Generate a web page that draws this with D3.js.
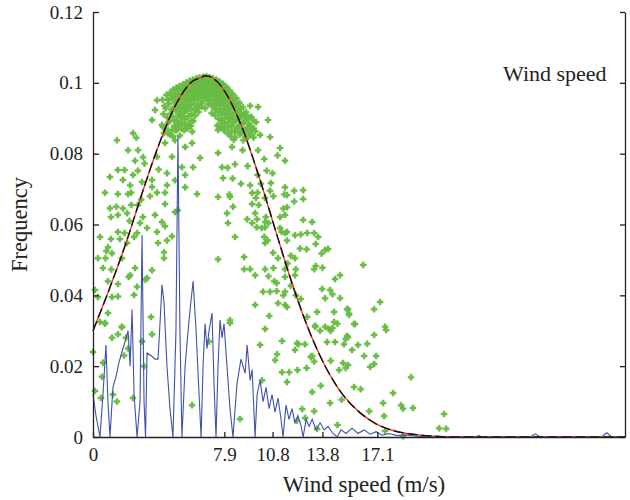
<!DOCTYPE html>
<html>
<head>
<meta charset="utf-8">
<script src="https://cdn.jsdelivr.net/npm/d3@7"></script>
<style>
  body { margin: 0; background: #fff; }
  text { font-family: "Liberation Serif", "DejaVu Serif", serif; fill: #222; }
</style>
</head>
<body>
<div id="chart"></div>
<script>
const xTickValues = [0, 7.9, 10.8, 13.8, 17.1];
const yTickValues = [0, 0.02, 0.04, 0.06, 0.08, 0.1, 0.12];
const yTickLabels = ["0", "0.02", "0.04", "0.06", "0.08", "0.1", "0.12"];

// fitted frequency curve
const fitX = [0, 1, 2, 3, 4, 5, 6, 6.5, 6.75, 7, 7.5, 8, 9, 10, 11, 12, 13, 14, 15, 16, 17, 18, 19, 20, 21, 22, 24, 26, 28, 30, 32];
const fitY = [0.030, 0.042, 0.055, 0.0695, 0.083, 0.094, 0.1005, 0.1015, 0.102, 0.1018, 0.1002, 0.097, 0.087, 0.0733, 0.058, 0.043, 0.030, 0.0197, 0.0121, 0.0071, 0.0038, 0.0019, 0.0009, 0.0004, 0.0001, 0, 0, 0, 0, 0, 0];

// measured histogram (blue)
const histX = [0, 0.18, 0.42, 0.6, 0.78, 0.9, 1.02, 1.2, 1.38, 1.56, 1.74, 1.93, 2.11, 2.23, 2.35, 2.47, 2.65, 2.83, 2.95, 3.07, 3.16,
  3.25, 3.49, 3.73, 3.91, 4.03, 4.15, 4.27, 4.45, 4.63, 4.81, 4.99, 5.11, 5.23, 5.35, 5.54, 5.72, 5.84, 6.02, 6.2, 6.38, 6.5,
  6.62, 6.74, 6.86, 6.98, 7.16, 7.28, 7.4, 7.52, 7.64, 7.76, 7.88, 8.06, 8.24, 8.42, 8.66, 8.9, 9.15, 9.27, 9.45, 9.57, 9.75,
  9.87, 10.05, 10.23, 10.41, 10.59, 10.77, 10.95, 11.13, 11.31, 11.43, 11.61, 11.79, 11.97, 12.15, 12.33, 12.52, 12.64, 12.82,
  13.0, 13.18, 13.42, 13.66, 13.9, 14.14, 14.44, 14.68, 14.92, 15.22, 15.58, 15.94, 16.3, 16.67, 17.03, 17.39, 17.8, 18.3,
  18.8, 19.5, 20.5, 23.0, 23.2, 23.4, 26.3, 26.6, 26.9, 30.6, 30.9, 31.2, 32];
const histY = [0.012, 0.006, 0, 0.012, 0.026, 0.01, 0, 0.014, 0.017, 0.021, 0.024, 0.027, 0.03, 0.02, 0.036, 0.012, 0, 0.01, 0.057, 0.01, 0,
  0.0237, 0.023, 0.022, 0.022, 0.032, 0.043, 0.038, 0.02, 0.008, 0, 0.03, 0.085, 0.03, 0, 0.02, 0.03, 0.036, 0.044, 0.03, 0.012, 0,
  0.02, 0.032, 0.025, 0.03, 0.035, 0.015, 0, 0.02, 0.033, 0.028, 0.032, 0.02, 0.008, 0, 0.015, 0.022, 0.018, 0.026, 0.016, 0.019, 0,
  0.012, 0.016, 0.01, 0.014, 0.008, 0.012, 0.007, 0.011, 0.005, 0, 0.009, 0.005, 0.008, 0.004, 0.006, 0.003, 0, 0.005,
  0.003, 0.005, 0.002, 0.004, 0.002, 0.003, 0.001, 0, 0.002, 0.001, 0.0025, 0.001, 0.002, 0.0008, 0.0015, 0.0005, 0.001, 0.0004,
  0.0006, 0.0002, 0, 0, 0.0004, 0, 0, 0.0009, 0, 0, 0.0012, 0, 0];

// observed points (green)
const obsPoints = [
  [0.0,0.024],[0.12,0.013],[0.54,0.017],[0.48,0.011],[0.60,0.021],[0.72,0.032],[1.14,0.028],[1.50,0.029],[1.20,0.012],[1.44,0.010],
  [1.87,0.023],[2.11,0.025],[1.99,0.028],[1.74,0.031],[2.41,0.011],[2.95,0.027],[3.07,0.020],[3.55,0.029],[5.96,0.009],[6.98,0.027],
  [0.72,0.069],[2.29,0.069],[3.85,0.069],[4.33,0.069],[6.26,0.0686],[3.43,0.068],[2.9,0.067],[2.7,0.0655],[2.3,0.0655],[4.33,0.0658],
  [4.93,0.0635],[5.1,0.064],[1.02,0.0646],[1.4,0.065],[1.8,0.0645],[2.05,0.0632],[1.5,0.0627],[1.08,0.0621],[2.2,0.061],[3.0,0.0621],
  [3.73,0.0627],[4.15,0.0607],[4.33,0.0595],[2.83,0.0604],[3.25,0.059],[2.65,0.0576],[2.47,0.0565],[1.5,0.0579],[1.9,0.0576],[3.85,0.0579],
  [4.75,0.0567],[0.42,0.0565],[1.08,0.0559],[1.62,0.0559],[2.05,0.0548],[3.91,0.0548],[4.45,0.0555],[0.90,0.0536],[0.80,0.0525],[4.27,0.0522],
  [1.14,0.0519],[0.30,0.0505],[0.75,0.0505],[1.74,0.0505],[4.27,0.0505],[7.52,0.0502],[0.60,0.0477],[1.1,0.0473],[2.53,0.0477],[3.55,0.0471],
  [2.23,0.0457],[2.15,0.0452],[3.25,0.0449],[3.15,0.0444],[0.90,0.044],[1.50,0.0432],[2.65,0.0424],[0.12,0.0415],[0.30,0.0395],[1.14,0.0395],
  [1.5,0.0397],[2.47,0.0401],[0.90,0.035],[0.42,0.0325],[0.72,0.0322],[1.74,0.0311],[3.49,0.0339],
  [1.44,0.0838],[2.41,0.0858],[2.6,0.0845],[2.71,0.081],[2.11,0.081],[3.01,0.079],[2.53,0.078],[3.1,0.0772],[1.50,0.0754],[1.9,0.0754],
  [2.41,0.074],[2.7,0.0752],[1.02,0.0734],[1.80,0.0726],[2.95,0.072],[3.55,0.0726],[2.23,0.0711],[1.5,0.0686],[2.11,0.0686],
  [3.55,0.0895],[3.73,0.0923],[3.85,0.0951],[4.21,0.0875],[4.51,0.0858],[4.93,0.0838],[5.54,0.0819],[5.96,0.083],[6.44,0.0788],[6.02,0.0762],
  [5.35,0.0762],[5.54,0.074],[5.05,0.0867],[4.33,0.083],[4.75,0.0791],[3.85,0.0791],[3.95,0.0755],[4.45,0.0745],[4.45,0.0711],[4.93,0.0725],
  [5.54,0.0705],[3.55,0.0706],[8.1,0.076],
  [4.18,0.0952],[4.24,0.0912],[4.15,0.0881],[4.27,0.0858],
  [4.42,0.0966],[4.37,0.0928],[4.46,0.0903],[4.39,0.0872],
  [4.63,0.0972],[4.57,0.0941],[4.66,0.0913],[4.59,0.0892],[4.64,0.0853],
  [4.83,0.0981],[4.77,0.0957],[4.86,0.0931],[4.79,0.0904],[4.88,0.0878],[4.81,0.0849],
  [5.02,0.0986],[4.96,0.0962],[5.07,0.0938],[4.98,0.0921],[5.05,0.0893],[4.94,0.0866],
  [5.21,0.0991],[5.16,0.0968],[5.25,0.0951],[5.18,0.0926],[5.27,0.0903],[5.14,0.0882],[5.23,0.0851],
  [5.42,0.0996],[5.37,0.0977],[5.46,0.0953],[5.39,0.0938],[5.44,0.0917],[5.35,0.0888],[5.48,0.0866],
  [5.61,0.1001],[5.57,0.0982],[5.66,0.0963],[5.58,0.0946],[5.64,0.0921],[5.55,0.0897],[5.68,0.0871],
  [5.82,0.1006],[5.77,0.0987],[5.86,0.0972],[5.79,0.0951],[5.84,0.0928],[5.75,0.0906],[5.88,0.0878],
  [6.01,0.1009],[5.96,0.0994],[6.05,0.0977],[5.98,0.0958],[6.06,0.0941],[5.94,0.0913],[6.03,0.0892],[5.97,0.0862],
  [6.22,0.1013],[6.16,0.0997],[6.25,0.0982],[6.18,0.0962],[6.27,0.0933],[6.14,0.0907],
  [6.41,0.1015],[6.36,0.1001],[6.45,0.0984],[6.38,0.0967],[6.47,0.0942],[6.34,0.0918],
  [6.62,0.1017],[6.57,0.1003],[6.66,0.0987],[6.58,0.0971],[6.64,0.0948],
  [6.81,0.1018],[6.77,0.1005],[6.86,0.0991],[6.79,0.0974],[6.84,0.0956],[6.75,0.0928],
  [7.02,0.1016],[6.96,0.1002],[7.05,0.0989],[6.98,0.0968],[7.07,0.0951],
  [7.21,0.1013],[7.16,0.0998],[7.26,0.0983],[7.18,0.0966],[7.24,0.0938],[7.14,0.0914],
  [7.42,0.1009],[7.37,0.0994],[7.46,0.0978],[7.39,0.0961],[7.44,0.0936],[7.35,0.0908],[7.47,0.0879],
  [7.61,0.1004],[7.56,0.0989],[7.66,0.0972],[7.58,0.0951],[7.64,0.0926],[7.55,0.0898],[7.68,0.0873],
  [7.82,0.0997],[7.77,0.0981],[7.86,0.0963],[7.79,0.0946],[7.84,0.0919],[7.75,0.0894],[7.88,0.0866],
  [8.01,0.0989],[7.96,0.0971],[8.06,0.0954],[7.98,0.0933],[8.04,0.0911],[7.94,0.0884],[8.08,0.0858],
  [8.21,0.0979],[8.16,0.0962],[8.26,0.0943],[8.18,0.0924],[8.24,0.0898],[8.14,0.0874],[8.27,0.0849],
  [8.41,0.0968],[8.36,0.0951],[8.46,0.0932],[8.38,0.0911],[8.44,0.0888],[8.34,0.0863],[8.47,0.0839],
  [8.61,0.0957],[8.56,0.0938],[8.66,0.0918],[8.58,0.0896],[8.64,0.0871],[8.55,0.0846],
  [8.81,0.0944],[8.76,0.0924],[8.86,0.0904],[8.78,0.0879],[8.84,0.0854],
  [9.01,0.0931],[8.96,0.0909],[9.06,0.0887],[8.98,0.0864],[9.04,0.0838],
  [9.21,0.0917],[9.16,0.0894],[9.26,0.0871],[9.18,0.0848],
  [9.51,0.0904],[9.46,0.0879],[9.56,0.0853],[9.81,0.0889],[9.76,0.0863],
  [4.3,0.0935],[4.5,0.0952],[4.52,0.0887],[4.7,0.0958],[4.72,0.0925],[4.73,0.0866],[4.9,0.0970],[4.92,0.0945],[4.91,0.0892],
  [5.1,0.0978],[5.12,0.0952],[5.11,0.0908],[5.09,0.0875],[5.3,0.0984],[5.32,0.0962],[5.31,0.0937],[5.29,0.0914],[5.33,0.0872],
  [5.5,0.0991],[5.52,0.0967],[5.51,0.0928],[5.49,0.0905],[5.53,0.0881],[5.7,0.0994],[5.72,0.0975],[5.71,0.0955],[5.69,0.0933],[5.73,0.0884],
  [5.9,0.1002],[5.92,0.098],[5.91,0.0962],[5.89,0.0939],[5.93,0.0893],[6.1,0.1005],[6.12,0.0987],[6.11,0.0968],[6.09,0.0951],[6.13,0.0924],
  [6.3,0.1008],[6.32,0.0991],[6.31,0.0974],[6.29,0.0952],[6.33,0.093],[6.5,0.1011],[6.52,0.0995],[6.51,0.0978],[6.49,0.0958],[6.53,0.0933],
  [6.7,0.1012],[6.72,0.0997],[6.71,0.098],[6.69,0.0962],[6.9,0.1012],[6.92,0.0996],[6.91,0.0981],[6.89,0.0962],[6.93,0.094],
  [7.1,0.1009],[7.12,0.0993],[7.11,0.0977],[7.09,0.096],[7.13,0.0935],[7.3,0.1004],[7.32,0.0989],[7.31,0.0972],[7.29,0.0951],[7.33,0.0925],
  [7.5,0.0998],[7.52,0.0983],[7.51,0.0964],[7.49,0.0944],[7.53,0.0918],[7.7,0.0993],[7.72,0.0976],[7.71,0.0958],[7.69,0.0937],[7.73,0.091],[7.72,0.0885],
  [7.9,0.0985],[7.92,0.0966],[7.91,0.0948],[7.89,0.0926],[7.93,0.09],[7.91,0.0875],[8.1,0.0976],[8.12,0.0957],[8.11,0.0938],[8.09,0.0916],[8.13,0.0889],
  [8.3,0.0966],[8.32,0.0946],[8.31,0.0926],[8.29,0.0903],[8.33,0.0878],[8.5,0.0952],[8.52,0.0934],[8.51,0.0913],[8.49,0.089],[8.53,0.0861],
  [8.7,0.0938],[8.72,0.0919],[8.71,0.0898],[8.69,0.0874],[8.9,0.0926],[8.92,0.0906],[8.91,0.0884],[8.89,0.0861],
  [9.1,0.0912],[9.12,0.0892],[9.11,0.0868],[9.35,0.0902],[9.37,0.0884],[9.36,0.0859],[9.65,0.0894],[9.67,0.0871],[9.66,0.0846],
  [10.53,0.0895],[10.65,0.0847],[11.25,0.0816],[11.55,0.078],[11.1,0.0795],[10.8,0.0745],[10.45,0.0752],[9.9,0.074],[9.3,0.0765],[8.54,0.077],
  [7.76,0.0762],[7.82,0.0731],[8.4,0.073],[8.9,0.0715],[9.45,0.0711],[10.1,0.0715],[10.7,0.0717],[10.65,0.0695],[11.55,0.0705],[12.1,0.0695],
  [12.64,0.0697],[8.2,0.0685],[9.9,0.069],[11.5,0.0685],[7.52,0.0802],[7.52,0.0867],[8.36,0.0819],[9.0,0.081],[9.93,0.081],[10.3,0.0785],
  [9.33,0.0847],[10.05,0.0853],[9.5,0.087],[9.27,0.0903],[9.93,0.0932],[9.45,0.0935],
  [7.52,0.0678],[8.24,0.0678],[9.57,0.0689],[9.8,0.0675],[10.35,0.0675],[10.85,0.068],[11.67,0.0683],[12.1,0.0665],[12.64,0.0672],[8.42,0.065],
  [9.57,0.0658],[9.97,0.0655],[11.45,0.0645],[11.67,0.0649],[9.75,0.0632],[11.25,0.0621],[11.55,0.0627],[8.06,0.0632],[9.87,0.0615],[10.4,0.0621],
  [9.27,0.0615],[9.57,0.0604],[10.35,0.0607],[10.55,0.0604],[8.12,0.0604],[12.64,0.0613],[13.18,0.0607],[10.35,0.0592],[10.15,0.059],[9.85,0.0592],
  [11.25,0.059],[11.67,0.0579],[11.35,0.0579],[11.55,0.0576],[12.15,0.057],[12.5,0.0572],[12.88,0.0576],[13.3,0.0576],[13.54,0.0565],[8.54,0.0565],
  [10.3,0.0565],[10.5,0.0555],[11.67,0.0555],[13.4,0.0545],[10.35,0.0548],[10.83,0.052],[12.45,0.0532],[12.85,0.053],[13.96,0.0528],[13.75,0.0518],
  [14.14,0.0531],[9.09,0.0508],[11.13,0.0505],[11.9,0.0512],[11.7,0.049],[12.15,0.0505],[13.4,0.0483],[13.8,0.0478],[9.09,0.0474],
  [9.45,0.0474],[10.35,0.0474],[10.85,0.0477],[11.55,0.0474],[12.2,0.0474],[13.3,0.0474],[9.75,0.0457],[10.55,0.0454],[11.55,0.0452],[12.15,0.0457],
  [14.56,0.0446],[14.86,0.0457],[10.9,0.044],[11.05,0.0435],[11.9,0.0427],[10.23,0.041],[10.65,0.041],[11.05,0.0412],[11.55,0.041],[13.78,0.0418],
  [14.26,0.0415],[14.4,0.0403],[11.45,0.040],[12.2,0.040],[14.86,0.0392],[13.96,0.0392],[12.5,0.039],[9.75,0.0373],[11.13,0.0378],[11.55,0.0373],
  [11.67,0.0367],[13.48,0.0353],[14.5,0.0353],[15.28,0.0361],[15.4,0.0348],[10.6,0.0342],[8.24,0.033],[12.88,0.0339],[13.36,0.0311],
  [13.96,0.0311],[14.4,0.0308],[14.7,0.032],
  [8.24,0.0322],[10.35,0.0305],[10.05,0.026],[11.37,0.0271],[11.07,0.0234],[10.95,0.0217],[12.27,0.0265],[12.35,0.0262],[12.75,0.0262],[12.15,0.0246],
  [13.36,0.0314],[13.66,0.030],[14.2,0.0305],[14.3,0.030],[14.5,0.0325],[15.28,0.0285],[14.08,0.0268],[14.56,0.0268],[15.1,0.0262],[13.18,0.0229],
  [13.1,0.0226],[13.3,0.0213],[14.3,0.0215],[15.04,0.0209],[14.8,0.0189],[11.37,0.0183],[11.8,0.0183],[12.3,0.0189],[12.85,0.0195],[11.67,0.0155],
  [10.17,0.016],[13.18,0.0127],[13.7,0.0145],[14.26,0.0096],[14.96,0.0105],[12.58,0.0079],[13.3,0.0073],[12.76,0.0054],[12.27,0.0046],[13.48,0.0023],
  [14.7,0.0034],[8.84,0.0051],
  [16.25,0.0486],[17.27,0.0381],[15.34,0.0361],[15.4,0.0345],[16.91,0.0361],[15.76,0.0319],[17.57,0.0311],[15.70,0.0319],[17.63,0.0302],
  [15.34,0.0282],[16.91,0.0288],[15.2,0.0277],[15.94,0.0260],[16.49,0.0263],[15.58,0.0246],[16.31,0.0229],[17.03,0.0229],[15.34,0.0203],[16.67,0.0198],
  [16.91,0.0206],[15.2,0.0195],[19.13,0.0169],[15.70,0.0141],[16.1,0.0135],[18.05,0.0124],[17.45,0.0096],[18.53,0.009],[18.65,0.0080],[19.25,0.0082],
  [16.61,0.0073],[17.51,0.0059],[21.12,0.0065],[20.82,0.0025],[21.24,0.0023],[17.57,0.0017],[18.65,0.0002]
];

const W = 630, H = 500;
const margin = { top: 12, right: 5, bottom: 63, left: 93 };
const innerW = W - margin.left - margin.right;
const innerH = H - margin.top - margin.bottom;

const svg = d3.select("#chart").append("svg")
    .attr("width", W)
    .attr("height", H);

const g = svg.append("g")
    .attr("transform", `translate(${margin.left},${margin.top})`);

const x = d3.scaleLinear().domain([0, 32]).range([0, innerW]);
const y = d3.scaleLinear().domain([0, 0.12]).range([innerH, 0]);

// green observations
g.selectAll(".obs")
    .data(obsPoints)
    .enter()
    .append("path")
    .attr("class", "obs")
    .attr("d", d3.symbol().type(d3.symbolCross).size(20))
    .attr("transform", d => `translate(${x(d[0])},${y(d[1])})`)
    .attr("fill", "#6abd45")
    .attr("stroke", "#6abd45")
    .attr("stroke-width", 0.5);

// blue histogram line
const hist = histX.map((v, i) => [v, histY[i]]);
g.append("path")
    .datum(hist)
    .attr("fill", "none")
    .attr("stroke", "#3f52aa")
    .attr("stroke-width", 1.1)
    .attr("d", d3.line().x(d => x(d[0])).y(d => y(d[1])));

// fitted curve: red under, black dashed on top
const fit = fitX.map((v, i) => [v, fitY[i]]);
const fitLine = d3.line().x(d => x(d[0])).y(d => y(d[1])).curve(d3.curveMonotoneX);
g.append("path")
    .datum(fit)
    .attr("fill", "none")
    .attr("stroke", "#ee3a2a")
    .attr("stroke-width", 1.4)
    .attr("d", fitLine);
g.append("path")
    .datum(fit)
    .attr("fill", "none")
    .attr("stroke", "#111")
    .attr("stroke-width", 1.4)
    .attr("stroke-dasharray", "10,4")
    .attr("d", fitLine);

// axes
const yAxis = g.append("g")
    .call(d3.axisLeft(y).tickValues(yTickValues)
        .tickFormat((d, i) => yTickLabels[i])
        .tickSize(-6).tickSizeOuter(0).tickPadding(10));

const xAxis = g.append("g")
    .attr("transform", `translate(0,${innerH})`)
    .call(d3.axisBottom(x).tickValues(xTickValues)
        .tickFormat(d => d)
        .tickSize(-5).tickSizeOuter(0).tickPadding(11));

const rAxis = g.append("g")
    .attr("transform", `translate(${innerW},0)`)
    .call(d3.axisRight(y).tickValues(yTickValues)
        .tickFormat("")
        .tickSize(-5).tickSizeOuter(0));

[yAxis, xAxis, rAxis].forEach(a => {
    a.select(".domain").attr("stroke", "#222").attr("stroke-width", 1.3);
    a.selectAll(".tick line").attr("stroke", "#222").attr("stroke-width", 1.3);
    a.selectAll(".tick text")
        .attr("font-family", "'Liberation Serif', serif")
        .attr("font-size", "19px")
        .attr("fill", "#222");
});

// titles
svg.append("text")
    .attr("x", 364)
    .attr("y", 492)
    .attr("text-anchor", "middle")
    .attr("font-size", "23px")
    .text("Wind speed (m/s)");

svg.append("text")
    .attr("transform", `translate(27,${margin.top + innerH / 2}) rotate(-90)`)
    .attr("text-anchor", "middle")
    .attr("font-size", "22.5px")
    .text("Frequency");

svg.append("text")
    .attr("x", 503)
    .attr("y", 81)
    .attr("font-size", "22px")
    .text("Wind speed");
</script>
</body>
</html>
